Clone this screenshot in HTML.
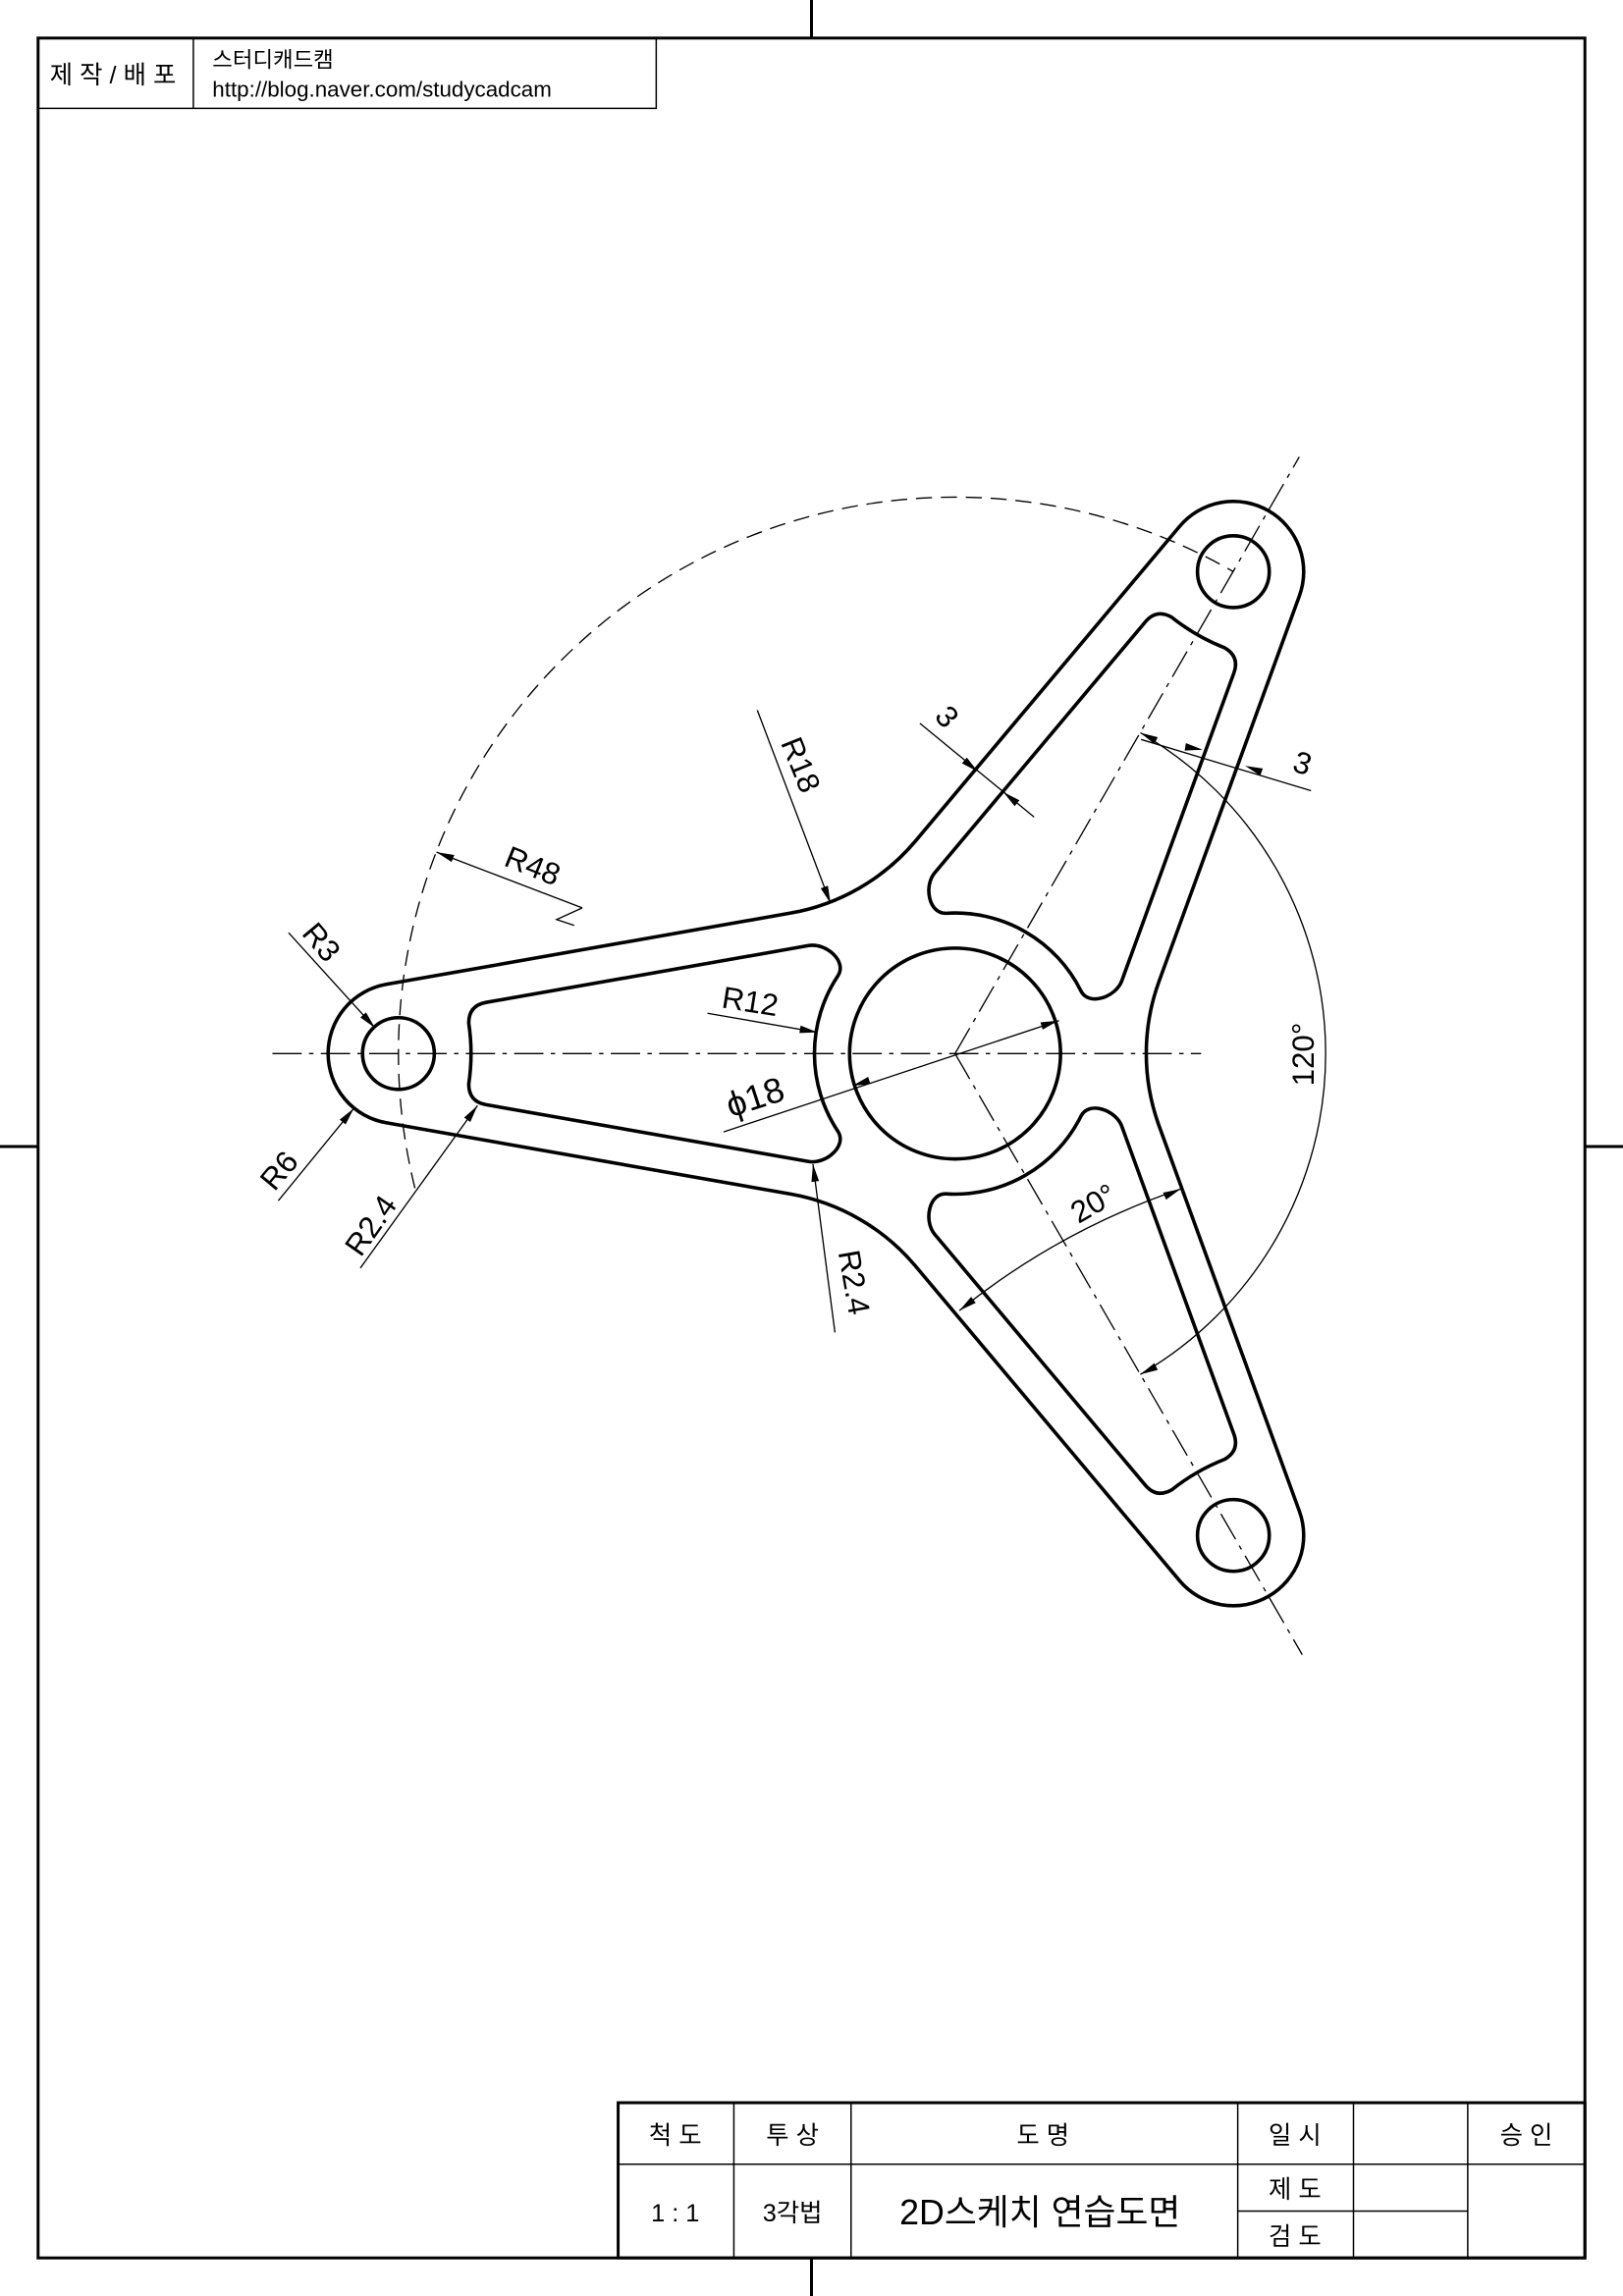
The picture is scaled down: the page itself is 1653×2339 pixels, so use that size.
<!DOCTYPE html>
<html><head><meta charset="utf-8"><style>
html,body{margin:0;padding:0;background:#fff;}
svg{display:block;}
text{font-family:"Liberation Sans","Noto Sans CJK KR",sans-serif;fill:#000;}
</style></head><body>
<svg id="s" xmlns="http://www.w3.org/2000/svg" width="1653" height="2339" viewBox="0 0 1108 1568" preserveAspectRatio="none">
<rect x="0" y="0" width="1108" height="1568" fill="#fff"/>
<g stroke="#000" stroke-width="2" fill="none">
<rect x="26" y="26" width="1056" height="1516"/>
<line x1="554" y1="0" x2="554" y2="26"/><line x1="554" y1="1542" x2="554" y2="1568"/>
<line x1="0" y1="783" x2="26" y2="783"/><line x1="1082" y1="783" x2="1108" y2="783"/>
</g>
<g stroke="#000" stroke-width="1" fill="none">
<rect x="26" y="26" width="422" height="48"/><line x1="132" y1="26" x2="132" y2="74"/>
</g>
<text x="34" y="57" font-size="17">제 작 / 배 포</text>
<text x="145" y="46" font-size="15">스터디캐드캠</text>
<text x="145" y="66" font-size="15">http://blog.naver.com/studycadcam</text>
<g stroke="#000" fill="none">
<rect x="422" y="1436" width="660" height="106" stroke-width="2"/>
<line x1="422" y1="1478" x2="1082" y2="1478" stroke-width="1"/>
<line x1="501" y1="1436" x2="501" y2="1542" stroke-width="1"/>
<line x1="581" y1="1436" x2="581" y2="1542" stroke-width="1"/>
<line x1="845" y1="1436" x2="845" y2="1542" stroke-width="1"/>
<line x1="924" y1="1436" x2="924" y2="1542" stroke-width="1"/>
<line x1="1002" y1="1436" x2="1002" y2="1542" stroke-width="1"/>
<line x1="845" y1="1510" x2="1002" y2="1510" stroke-width="1"/>
</g>
<g font-size="17" text-anchor="middle">
<text x="461" y="1464">척  도</text><text x="541" y="1464">투  상</text>
<text x="712" y="1464">도        명</text><text x="884" y="1464">일  시</text>
<text x="1042" y="1464">승  인</text>
<text x="461" y="1517">1 : 1</text><text x="541" y="1517">3각법</text>
<text x="710" y="1519" font-size="24">2D스케치 연습도면</text>
<text x="884" y="1501">제  도</text><text x="884" y="1533">검  도</text>
</g>
<g id="g"></g>
</svg>
<script>
const NS="http://www.w3.org/2000/svg",G=document.getElementById('g');
function add(tag,a,txt){const e=document.createElementNS(NS,tag);for(const k in a)e.setAttribute(k,a[k]);if(txt)e.textContent=txt;G.appendChild(e);return e;}
const C=[652,719.5],L=380,Re=48,t=10*Math.PI/180,Rf=144,off=24,rhub=72,rh=24.5;
const st=Math.sin(t),ct=Math.cos(t);
function rot(p,a){a=a*Math.PI/180;return [p[0]*Math.cos(a)-p[1]*Math.sin(a),p[0]*Math.sin(a)+p[1]*Math.cos(a)];}
function S(p){return (C[0]+p[0]).toFixed(2)+","+(C[1]+p[1]).toFixed(2);}
const n=[-st,-ct],d=[ct,-st],E=[-L,0];
const k=(Re+L*st)/Math.sin(t+Math.PI/3);
const P=[-0.5*k,-0.8660254*k];
const dist=Rf/Math.tan(Math.PI/3+t);
const T2=[P[0]-dist*d[0],P[1]-dist*d[1]],T1=[T2[0],-T2[1]];
const B2=[-L-Re*st,-Re*ct],B1=[B2[0],-B2[1]];
let path="M"+S(T1);
for(let i=0;i<3;i++){const a=120*i;
 path+=" L"+S(rot(B1,a))+" A"+Re+" "+Re+" 0 0 1 "+S(rot(B2,a))+" L"+S(rot(T2,a))+" A"+Rf+" "+Rf+" 0 0 0 "+S(rot(T1,a+120));}
path+=" Z";
add('path',{d:path,fill:"none",stroke:"#000","stroke-width":2.4,"stroke-linejoin":"round"});
function lineY(x){const p0=[E[0]+(Re-off)*n[0],E[1]+(Re-off)*n[1]];const u=(x-p0[0])/d[0];return p0[1]+u*d[1];}
const xl=-L+48,xe=-100;
const UL=[xl,lineY(xl)],UE=[xe,lineY(xe)];
const ya=-53,xa=-Math.sqrt(96*96-ya*ya);
const c1=[xe+12*ct,UE[1]-12*st],c2=[xa+0.555*12,ya-0.833*12];
const m=p=>[p[0],-p[1]];
const rs=12;
function pocket(a){const r=p=>S(rot(p,a));
 let s="M"+r([UL[0]+rs*ct,UL[1]-rs*st])+" L"+r(UE)+" C"+r(c1)+" "+r(c2)+" "+r([xa,ya])+
 " A96 96 0 0 0 "+r([xa,-ya])+" C"+r(m(c2))+" "+r(m(c1))+" "+r(m(UE))+
 " L"+r([UL[0]+rs*ct,-UL[1]+rs*st])+" Q"+r(m(UL))+" "+r([xl,-UL[1]-rs])+
 " A140 140 0 0 0 "+r([xl,UL[1]+rs])+" Q"+r(UL)+" "+r([UL[0]+rs*ct,UL[1]-rs*st])+" Z";
 add('path',{d:s,fill:"none",stroke:"#000","stroke-width":2.4,"stroke-linejoin":"round"});}
for(let i=0;i<3;i++)pocket(120*i);
add('circle',{cx:C[0],cy:C[1],r:rhub,fill:"none",stroke:"#000","stroke-width":2.4});
for(let i=0;i<3;i++){const h=rot(E,120*i);add('circle',{cx:C[0]+h[0],cy:C[1]+h[1],r:rh,fill:"none",stroke:"#000","stroke-width":2.4});}
const cl={stroke:"#000","stroke-width":0.9,"stroke-dasharray":"20 5 3 5",fill:"none"};
add('line',Object.assign({x1:186,y1:719.5,x2:820,y2:719.5},cl));
add('line',Object.assign({x1:652,y1:719.5,x2:887,y2:312},cl));
add('line',Object.assign({x1:652,y1:719.5,x2:889,y2:1130},cl));
(function(){const R=380;const a1=166*Math.PI/180,a2=300*Math.PI/180;
const p1=[C[0]+R*Math.cos(a1),C[1]+R*Math.sin(a1)],p2=[C[0]+R*Math.cos(a2),C[1]+R*Math.sin(a2)];
add('path',{d:`M${p1[0]},${p1[1]} A${R} ${R} 0 0 1 ${p2[0]},${p2[1]}`,fill:"none",stroke:"#000","stroke-width":0.9,"stroke-dasharray":"11 6"});
})();
const th={stroke:"#000","stroke-width":0.9,fill:"none"};
function ln(x1,y1,x2,y2){add('line',Object.assign({x1,y1,x2,y2},th));}
function arr(tx,ty,fx,fy){const dx=tx-fx,dy=ty-fy,l=Math.hypot(dx,dy),ux=dx/l,uy=dy/l,L2=12,W=2.6;
 const bx=tx-ux*L2,by=ty-uy*L2;add('path',{d:`M${tx},${ty} L${bx-uy*W},${by+ux*W} L${bx+uy*W},${by-ux*W} Z`,fill:"#000"});}
function tx(x,y,r,s,fs){add('text',{x,y,"font-size":fs||21,"text-anchor":"middle",transform:`rotate(${r} ${x} ${y})`},s);}
ln(298,582,397.5,620);arr(298,582,397.5,620);
add('polyline',Object.assign({points:"397.5,620 380,628 392,632"},th));
tx(361,598,22,"R48");
ln(197,637,256,702);arr(256,702,197,637);tx(214,648,50,"R3");
ln(190,820,241.5,757);arr(241.5,757,190,820);tx(196,804,-50,"R6");
ln(246,866,326,755);arr(326,755,246,866);tx(259,841,-55,"R2.4");
ln(517,485,567,617);arr(567,617,517,485);tx(540,525,68,"R18");
ln(483,692,558,705);arr(558,705,483,692);tx(511,691,9,"R12");
ln(494,773,723,697);arr(582,741.5,652,719.5);arr(722.5,697,652,719.5);tx(518,757,-18,"ϕ18",24);
ln(570,910,555,795);arr(555,795,570,910);tx(576,877,80,"R2.4");
ln(628,494,706,558);arr(667.6,527,628,494);arr(685,541,706,558);tx(641,494,50,"3");
ln(779,505,895,540);arr(821,512,779,505);arr(850,523,895,540);tx(887,528,18,"3");
(function(){const R=253;const p1=[C[0]+R*Math.cos(-Math.PI/3),C[1]+R*Math.sin(-Math.PI/3)],p2=[C[0]+R*Math.cos(Math.PI/3),C[1]+R*Math.sin(Math.PI/3)];
add('path',Object.assign({d:`M${p1[0]},${p1[1]} A${R} ${R} 0 0 1 ${p2[0]},${p2[1]}`},th));
arr(p1[0],p1[1],p1[0]+20,p1[1]+10);arr(p2[0],p2[1],p2[0]+20,p2[1]-10);})();
tx(897,720,-90,"120°");
add('path',Object.assign({d:"M655,895 A495 495 0 0 1 806,812"},th));
arr(655,895,672,882);arr(806,812,788,820);
tx(750,828,-30,"20°");
</script>
</body></html>
